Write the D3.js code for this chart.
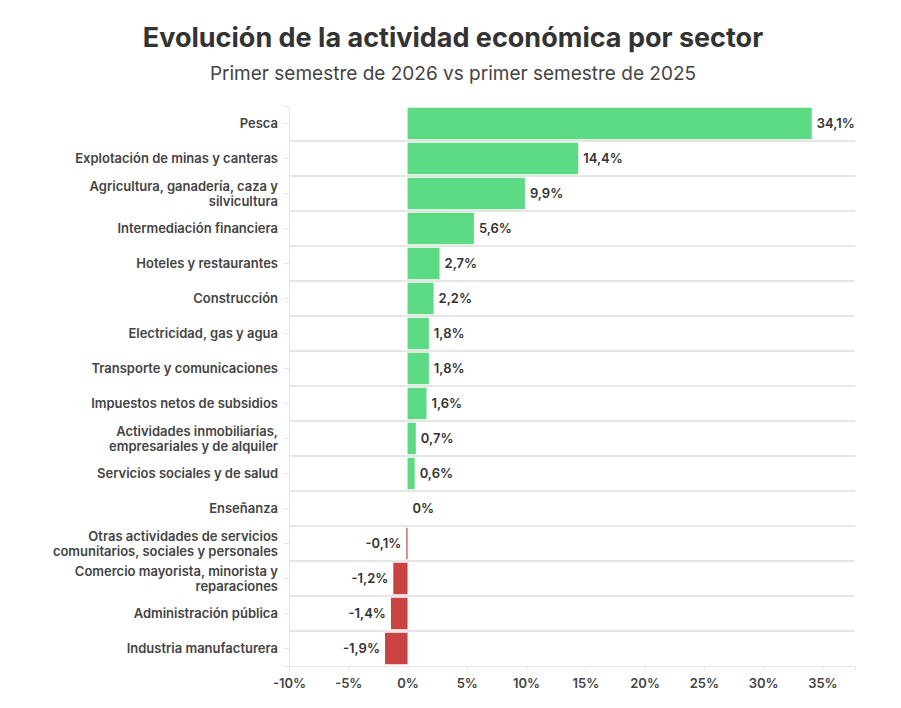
<!DOCTYPE html>
<html><head><meta charset="utf-8">
<script src="https://cdn.jsdelivr.net/npm/d3@7"></script>
<style>body{margin:0;background:#fff;font-family:Inter,"Open Sans",sans-serif}</style>
</head><body><svg id="c" width="901" height="708"></svg>
<script>
const sectores = ["Pesca","Explotación de minas y canteras","Agricultura, ganadería, caza y|silvicultura","Intermediación financiera","Hoteles y restaurantes","Construcción","Electricidad, gas y agua","Transporte y comunicaciones","Impuestos netos de subsidios","Actividades inmobiliarias,|empresariales y de alquiler","Servicios sociales y de salud","Enseñanza","Otras actividades de servicios|comunitarios, sociales y personales","Comercio mayorista, minorista y|reparaciones","Administración pública","Industria manufacturera"];
const variacion = [34.1,14.4,9.9,5.6,2.7,2.2,1.8,1.8,1.6,0.7,0.6,0,-0.1,-1.2,-1.4,-1.9];
const ticks = [-10,-5,0,5,10,15,20,25,30,35];

const svg = d3.select("#c");
const L=289,R=855,T=106,B=666;
const x = d3.scaleLinear().domain([-10,37.75]).range([L,R]);
const y = d3.scaleBand().domain(d3.range(sectores.length)).range([T,B]).paddingInner(0.1).paddingOuter(0.05);
const step = y.step();

svg.append("text").attr("x",453).attr("y",47).attr("text-anchor","middle")
  .attr("font-size",27).attr("font-weight",700).attr("fill","#333").text("Evolución de la actividad económica por sector");
svg.append("text").attr("x",453).attr("y",80).attr("text-anchor","middle")
  .attr("font-size",19).attr("fill","#444").text("Primer semestre de 2026 vs primer semestre de 2025");

// separators
svg.append("g").selectAll("line").data(d3.range(1,sectores.length)).join("line")
  .attr("x1",L).attr("x2",R).attr("y1",i=>T+i*step).attr("y2",i=>T+i*step)
  .attr("stroke","#ccc");

const xa = svg.append("g").attr("transform",`translate(0,${B})`)
  .call(d3.axisBottom(x).tickValues(ticks).tickSize(5).tickFormat(d=>d+"%"));
xa.select(".domain").attr("stroke","#e6e6e6");
xa.selectAll(".tick line").attr("stroke","#e6e6e6");
xa.selectAll("text").attr("font-size",13).attr("font-weight",600).attr("fill","#444").attr("font-family","Inter,sans-serif").attr("dy","1.1em");

const ya = svg.append("g").attr("transform",`translate(${L},0)`)
  .call(d3.axisLeft(y).tickSize(5).tickFormat(""));
ya.select(".domain").attr("stroke","#e6e6e6");
ya.selectAll(".tick line").attr("stroke","#e6e6e6");

svg.append("g").selectAll("text").data(sectores).join("text")
  .attr("text-anchor","end").attr("font-size",13).attr("font-weight",600).attr("fill","#444")
  .each(function(d,i){
    const parts=d.split("|"), cy=y(i)+y.bandwidth()/2;
    const t=d3.select(this);
    parts.forEach((p,j)=>t.append("tspan").attr("x",L-11)
      .attr("y",cy+4.5+(j-(parts.length-1)/2)*15).text(p));
  });

svg.append("g").selectAll("rect").data(variacion).join("rect")
  .attr("x",d=>x(Math.min(0,d))).attr("width",d=>Math.abs(x(d)-x(0)))
  .attr("y",(d,i)=>y(i)).attr("height",y.bandwidth())
  .attr("fill",d=>d<0?"#c94343":"#5cdb84");

const fmt = d=>String(d).replace(".",",")+"%";
svg.append("g").selectAll("text").data(variacion).join("text")
  .attr("x",d=>d<0?x(d)-5:x(d)+5).attr("y",(d,i)=>y(i)+y.bandwidth()/2+4.5)
  .attr("text-anchor",d=>d<0?"end":"start")
  .attr("font-size",13).attr("font-weight",600).attr("fill","#333").text(fmt);
</script></body></html>
